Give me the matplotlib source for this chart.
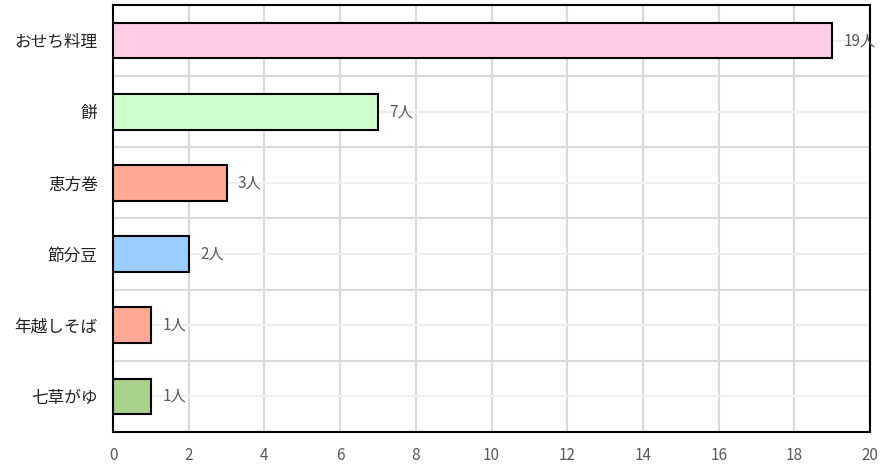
import matplotlib.pyplot as plt
from matplotlib.ticker import MultipleLocator, FixedLocator

plt.rcParams['font.family'] = ['Noto Sans CJK JP', 'DejaVu Sans']

foods = ["おせち料理", "餅", "恵方巻", "節分豆", "年越しそば", "七草がゆ"]
people = [19, 7, 3, 2, 1, 1]
barColors = ["#FFCCE6", "#CCFFCC", "#FFAA95", "#99CCFF", "#FFAA95", "#A9D18E"]
valueLabels = [f"{v}人" for v in people]

fig = plt.figure(figsize=(8.94, 4.70), dpi=100)
ax = fig.add_axes([0.1264, 0.0809, 0.8468, 0.9085])

ypos = list(range(len(foods)))
ax.barh(ypos, people, height=0.5, color=barColors, edgecolor="black", linewidth=1.5, zorder=3)

for y, v, lab in zip(ypos, people, valueLabels):
    ax.text(v + 0.3, y, lab, va="center", ha="left", fontsize=11, color="#595959", zorder=4)

ax.set_xlim(0, 20)
ax.set_ylim(len(foods) - 0.5, -0.5)
ax.xaxis.set_major_locator(MultipleLocator(2))
ax.set_yticks(ypos)
ax.set_yticklabels(foods, fontsize=12, color="#222222")
ax.yaxis.set_minor_locator(FixedLocator([i + 0.5 for i in range(len(foods) - 1)]))

ax.grid(axis="x", which="major", color="#d9d9d9", linewidth=1.5, zorder=0)
ax.grid(axis="y", which="minor", color="#d9d9d9", linewidth=1.5, zorder=0)
ax.grid(axis="y", which="major", color="#f0f0f0", linewidth=1.5, zorder=0)

ax.tick_params(axis="x", labelsize=11, labelcolor="#595959", length=0, pad=11)
ax.tick_params(axis="y", which="both", length=0, pad=11)

for s in ax.spines.values():
    s.set_color("black")
    s.set_linewidth(1.5)

fig.savefig("out.png", dpi=100)
